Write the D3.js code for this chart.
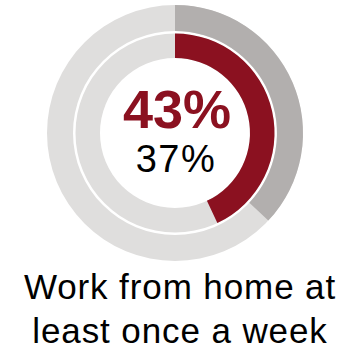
<!DOCTYPE html>
<html>
<head>
<meta charset="utf-8">
<script src="https://cdn.jsdelivr.net/npm/d3@7"></script>
<style>
  html, body { margin: 0; padding: 0; background: #fff; }
  svg { display: block; }
  text { font-family: "Liberation Sans", Arial, Helvetica, sans-serif; }
</style>
</head>
<body>
<svg id="chart" width="350" height="347"></svg>
<script>
// Share of respondents, one ring per group (inner ring first)
const rings = ["inner", "outer"];
const shares = [43, 37];
const ringColors = ["#8b1120", "#b2afae"];
const trackColor = "#dfdedd";
const captionLines = ["Work from home at", "least once a week"];

const svg = d3.select("#chart");
const cx = 175, cy = 133;

// Radii of each ring: [inner, outer]
const radii = {
  inner: [75, 99.5],
  outer: [102, 128]
};

const angle = d3.scaleLinear().domain([0, 100]).range([0, 2 * Math.PI]);
const g = svg.append("g").attr("transform", `translate(${cx},${cy})`);

rings.forEach((name, i) => {
  const [r0, r1] = radii[name];
  const arc = d3.arc().innerRadius(r0).outerRadius(r1);
  g.append("path")
    .attr("d", arc({ startAngle: 0, endAngle: angle(100) }))
    .attr("fill", trackColor);
  g.append("path")
    .attr("d", arc({ startAngle: 0, endAngle: angle(shares[i]) }))
    .attr("fill", ringColors[i]);
});

// Centre labels
g.append("text")
  .attr("x", 2)
  .attr("y", 127.7 - cy)
  .attr("text-anchor", "middle")
  .attr("font-size", 54)
  .attr("font-weight", "bold")
  .attr("fill", ringColors[0])
  .text(d3.format("d")(shares[0]) + "%");

g.append("text")
  .attr("x", 1)
  .attr("y", 172.3 - cy)
  .attr("text-anchor", "middle")
  .attr("font-size", 38)
  .attr("letter-spacing", 1.5)
  .attr("fill", "#000")
  .text(d3.format("d")(shares[1]) + "%");

// Caption below the rings
svg.append("text")
  .attr("text-anchor", "middle")
  .attr("font-size", 35)
  .attr("letter-spacing", 0.9)
  .attr("fill", "#000")
  .selectAll("tspan")
  .data(captionLines)
  .join("tspan")
  .attr("x", 180)
  .attr("y", (d, i) => 298.7 + i * 44)
  .text(d => d);
</script>
</body>
</html>
